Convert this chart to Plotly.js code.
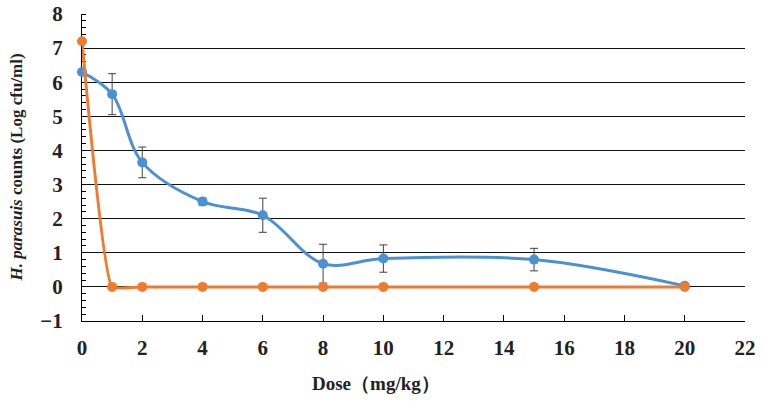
<!DOCTYPE html>
<html>
<head>
<meta charset="utf-8">
<script src="https://cdn.plot.ly/plotly-3.0.1.min.js"></script>
<style>
  html, body { margin: 0; padding: 0; background: #fff; }
  #chart { width: 765px; height: 407px; }
</style>
</head>
<body>
<div id="chart"></div>
<script>
// dose (mg/kg)
var doses = [0, 1, 2, 4, 6, 8, 10, 15, 20];
// blue series with error bars
var blueCounts = [6.3, 5.65, 3.65, 2.5, 2.1, 0.68, 0.83, 0.8, 0.03];
var blueErrors = [null, 0.6, 0.45, 0.1, 0.5, 0.57, 0.4, 0.33, null];
// orange series
var orangeCounts = [7.2, 0, 0, 0, 0, 0, 0, 0, 0];

var xTicks = [0, 2, 4, 6, 8, 10, 12, 14, 16, 18, 20, 22];
var yTicks = [-1, 0, 1, 2, 3, 4, 5, 6, 7, 8];

var serif = 'Liberation Serif';

var blueTrace = {
    type: 'scatter',
    mode: 'lines+markers',
    x: doses,
    y: blueCounts,
    cliponaxis: false,
    line: { color: '#4a90d2', width: 3, shape: 'spline', smoothing: 1 },
    marker: { color: '#4a90d2', size: 10 },
    error_y: {
        type: 'data',
        array: blueErrors,
        visible: true,
        color: '#404040',
        thickness: 1,
        width: 4
    }
};

var orangeTrace = {
    type: 'scatter',
    mode: 'lines+markers',
    x: doses,
    y: orangeCounts,
    cliponaxis: false,
    line: { color: '#ee7b30', width: 3, shape: 'spline', smoothing: 0.35 },
    marker: { color: '#ee7b30', size: 10 }
};

var layout = {
    width: 765,
    height: 407,
    margin: { l: 82, r: 20, t: 14, b: 86 },
    showlegend: false,
    plot_bgcolor: '#fff',
    paper_bgcolor: '#fff',
    font: { family: serif, size: 21, color: '#222', weight: 700 },
    xaxis: {
        range: [0, 22],
        tickvals: xTicks,
        showgrid: false,
        zeroline: false,
        showline: true,
        linecolor: '#000',
        linewidth: 1,
        ticks: 'inside',
        ticklen: 6,
        tickcolor: '#000',
        ticklabelstandoff: 8,
        layer: 'below traces',
        tickfont: { family: serif, size: 21, color: '#222', weight: 700 }
    },
    yaxis: {
        range: [-1, 8],
        tickvals: yTicks,
        showgrid: true,
        gridcolor: '#111',
        gridwidth: 1,
        zeroline: false,
        showline: true,
        linecolor: '#000',
        linewidth: 1,
        ticks: '',
        ticklabelstandoff: 14,
        layer: 'below traces',
        tickfont: { family: serif, size: 21, color: '#222', weight: 700 },
        minor: { dtick: 0.2, ticks: 'inside', ticklen: 4, tickcolor: '#000', showgrid: false }
    },
    annotations: [
        {
            text: '<i>H. parasuis</i> counts (Log cfu/ml)',
            xref: 'paper', yref: 'paper',
            x: -0.0995, y: 0.5,
            xanchor: 'center', yanchor: 'middle',
            textangle: -90,
            showarrow: false,
            font: { family: serif, size: 17, color: '#222', weight: 700 }
        },
        {
            text: 'Dose（mg/kg）',
            xref: 'paper', yref: 'paper',
            x: 0.443, y: -0.202,
            xanchor: 'center', yanchor: 'middle',
            showarrow: false,
            font: { family: serif, size: 19, color: '#222', weight: 700 }
        }
    ]
};

Plotly.newPlot('chart', [blueTrace, orangeTrace], layout, { displayModeBar: false, staticPlot: true });
</script>
</body>
</html>
